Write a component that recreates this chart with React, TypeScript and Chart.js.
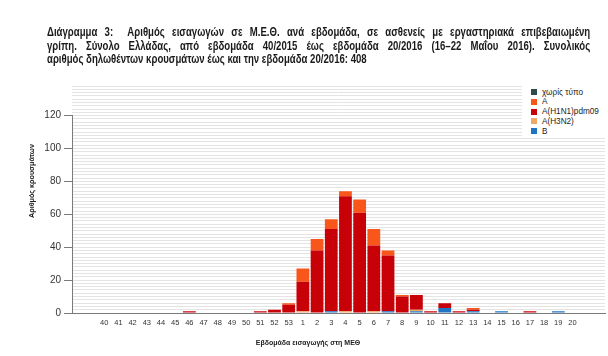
import React, { useEffect, useRef } from "react";
import { Chart, registerables } from "chart.js";

Chart.register(...registerables);

const weeks = [
  "40", "41", "42", "43", "44", "45", "46", "47", "48", "49", "50", "51", "52", "53",
  "1", "2", "3", "4", "5", "6", "7", "8", "9", "10", "11", "12", "13", "14", "15", "16", "17", "18", "19", "20",
];

const noType = [0, 0, 0, 0, 0, 0, 0, 0, 0, 0, 0, 0, 0, 0, 0, 0, 0, 0, 0, 0, 0, 0, 0, 0, 0, 0, 0, 0, 0, 0, 0, 0, 0, 0];
const typeA = [0, 0, 0, 0, 0, 0, 0, 0, 0, 0, 0, 0, 0, 1, 8, 7, 6, 3, 8, 10, 3, 1, 0, 0, 0, 0, 1, 0, 0, 0, 0, 0, 0, 0];
const h1n1 = [0, 0, 0, 0, 0, 0, 1, 0, 0, 0, 0, 1, 2, 5, 18, 38, 50, 70, 61, 40, 34, 10, 9, 1, 3, 1, 1, 0, 0, 0, 1, 0, 0, 0];
const h3n2 = [0, 0, 0, 0, 0, 0, 0, 0, 0, 0, 0, 0, 0, 0, 1, 0, 0, 1, 0, 1, 0, 0, 1, 0, 0, 0, 0, 0, 0, 0, 0, 0, 0, 0];
const typeB = [0, 0, 0, 0, 0, 0, 0, 0, 0, 0, 0, 0, 0, 0, 0, 0, 1, 0, 0, 0, 1, 0, 1, 0, 3, 0, 1, 0, 1, 0, 0, 0, 1, 0];

const yTicks = [0, 20, 40, 60, 80, 100, 120];

const seriesNames = ["χωρίς τύπο", "A", "A(H1N1)pdm09", "A(H3N2)", "B"];
const seriesColors = ["#2f4a4a", "#f8561a", "#c80008", "#f0a868", "#1f74c4"];

const titleLines = [
  "Διάγραμμα 3:\u00a0 Αριθμός εισαγωγών σε Μ.Ε.Θ. ανά εβδομάδα, σε ασθενείς με εργαστηριακά επιβεβαιωμένη",
  "γρίπη. Σύνολο Ελλάδας, από εβδομάδα 40/2015 έως εβδομάδα 20/2016 (16–22 Μαΐου 2016). Συνολικός",
  "αριθμός δηλωθέντων κρουσμάτων έως και την εβδομάδα 20/2016: 408",
];
const yTitle = "Αριθμός κρουσμάτων";
const xTitle = "Εβδομάδα εισαγωγής στη ΜΕΘ";

const FONT = '"Liberation Sans", Arial, sans-serif';
const STRIPE = "#e4e4e4";

function toPoints(arr: number[]) {
  return arr.map((v, i) => ({ x: i, y: v }));
}

export default function App() {
  const ref = useRef<HTMLCanvasElement | null>(null);

  useEffect(() => {
    if (!ref.current) return;
    const stackOrder = [
      { name: seriesNames[4], data: typeB, color: seriesColors[4] },
      { name: seriesNames[3], data: h3n2, color: seriesColors[3] },
      { name: seriesNames[2], data: h1n1, color: seriesColors[2] },
      { name: seriesNames[1], data: typeA, color: seriesColors[1] },
      { name: seriesNames[0], data: noType, color: seriesColors[0] },
    ];
    const chart = new Chart(ref.current, {
      type: "bar",
      data: {
        datasets: stackOrder.map((s) => ({
          label: s.name,
          data: toPoints(s.data),
          backgroundColor: s.color,
          borderWidth: 0,
          barPercentage: 0.9,
          categoryPercentage: 1,
          yAxisID: "y",
        })),
      },
      options: {
        animation: false,
        responsive: false,
        layout: { padding: { top: 86, right: 3, bottom: 23, left: 0 } },
        plugins: { legend: { display: false }, tooltip: { enabled: false } },
        scales: {
          x: {
            type: "linear",
            stacked: true,
            min: -1.75,
            max: 34.77,
            grid: { display: false, drawTicks: false },
            border: { display: true, color: "#7a7a7a", width: 1 },
            ticks: {
              stepSize: 1,
              autoSkip: false,
              includeBounds: false,
              maxRotation: 0,
              padding: 5,
              color: "#333",
              font: { size: 7.5, family: FONT },
              callback: (v: any) => weeks[Number(v)] ?? "",
            },
            afterFit: (s: any) => {
              s.height = 20;
            },
          },
          y: {
            type: "linear",
            position: "left",
            stack: "left",
            stackWeight: 120,
            stacked: true,
            min: 0,
            max: 120,
            grid: {
              color: (ctx: any) => (ctx.tick && ctx.tick.value === 0 ? "rgba(0,0,0,0)" : STRIPE),
              tickColor: (ctx: any) =>
                ctx.tick && yTicks.includes(ctx.tick.value) ? "#7a7a7a" : "rgba(0,0,0,0)",
              tickLength: 8,
            },
            border: { display: true, color: "#7a7a7a", width: 1 },
            ticks: {
              stepSize: 2,
              autoSkip: false,
              padding: 3,
              color: "#333",
              font: { size: 10, family: FONT },
              callback: (v: any) => (yTicks.includes(Number(v)) ? String(v) : ""),
            },
            afterFit: (s: any) => {
              s.width = 72;
            },
          },
          yTop: {
            type: "linear",
            position: "left",
            stack: "left",
            stackWeight: 18,
            min: 120,
            max: 138,
            grid: { color: STRIPE, drawTicks: false },
            border: { display: false },
            ticks: { display: false, stepSize: 2 },
            afterFit: (s: any) => {
              s.width = 72;
            },
          },
        },
      } as any,
    });
    return () => chart.destroy();
  }, []);

  return (
    <div
      style={{
        position: "fixed",
        left: 0,
        top: 0,
        width: 608,
        height: 356,
        background: "#fff",
        overflow: "hidden",
      }}
    >
      <canvas ref={ref} width={608} height={356} style={{ position: "absolute", left: 0, top: 0 }} />
      <div
        style={{
          position: "absolute",
          left: 47,
          top: 26,
          width: 679,
          transform: "scaleX(0.8)",
          transformOrigin: "0 0",
          fontFamily: FONT,
          fontWeight: "bold",
          fontSize: 12,
          lineHeight: "13.6px",
          color: "#1a1a1a",
        }}
      >
        {titleLines.map((t, i) => (
          <div
            key={i}
            style={{
              textAlign: i < 2 ? "justify" : "left",
              textAlignLast: i < 2 ? "justify" : "left",
            } as any}
          >
            {t}
          </div>
        ))}
      </div>
      <div
        style={{
          position: "absolute",
          left: 522,
          top: 85,
          width: 86,
          height: 52,
          background: "#fff",
          fontFamily: FONT,
          fontSize: 8.2,
          color: "#222",
        }}
      >
        {seriesNames.map((n, i) => (
          <div
            key={n}
            style={{ position: "absolute", left: 9, top: 2 + i * 9.8, height: 10, display: "flex", alignItems: "center" }}
          >
            <span style={{ display: "inline-block", width: 6, height: 6, background: seriesColors[i], marginRight: 5 }} />
            <span style={{ whiteSpace: "nowrap" }}>{n}</span>
          </div>
        ))}
      </div>
      <div
        style={{
          position: "absolute",
          left: 32 - 60,
          top: 181 - 6,
          width: 120,
          height: 12,
          lineHeight: "12px",
          textAlign: "center",
          transform: "rotate(-90deg)",
          fontFamily: FONT,
          fontWeight: "bold",
          fontSize: 7.2,
          color: "#222",
          whiteSpace: "nowrap",
        }}
      >
        {yTitle}
      </div>
      <div
        style={{
          position: "absolute",
          left: 208,
          top: 339,
          width: 200,
          textAlign: "center",
          fontFamily: FONT,
          fontWeight: "bold",
          fontSize: 7,
          color: "#222",
          whiteSpace: "nowrap",
        }}
      >
        {xTitle}
      </div>
    </div>
  );
}
